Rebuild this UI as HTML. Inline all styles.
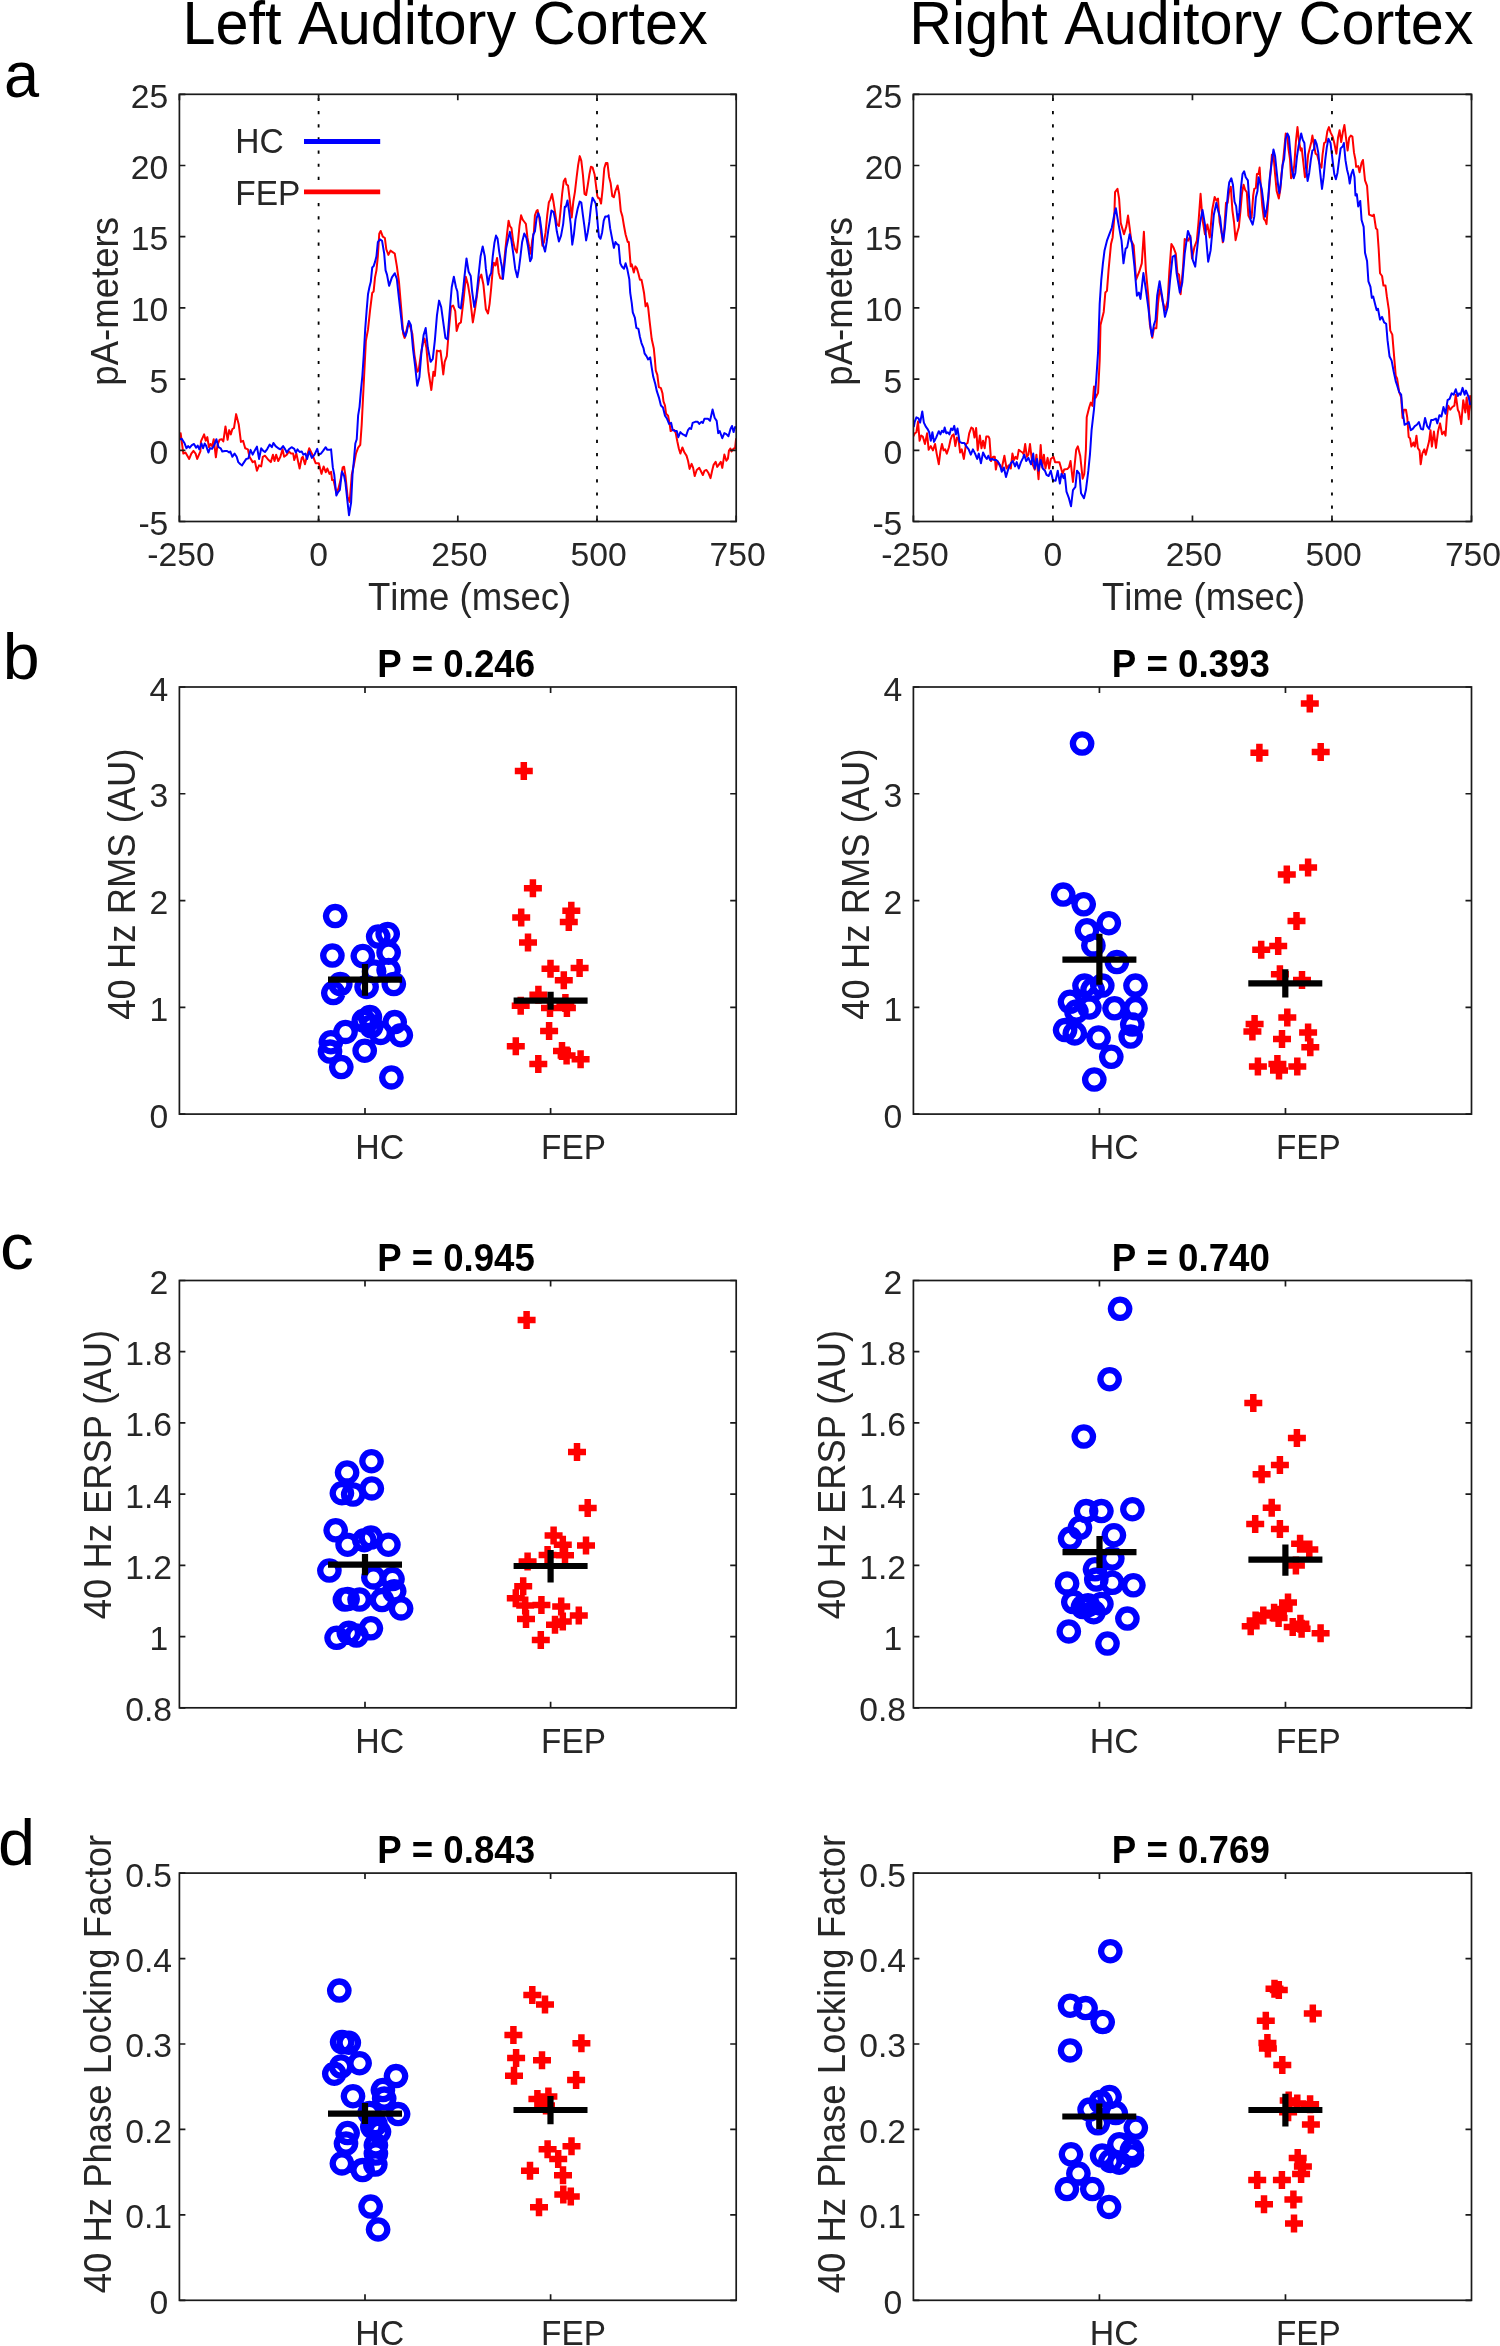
<!DOCTYPE html>
<html><head><meta charset="utf-8"><title>Figure</title>
<style>html,body{margin:0;padding:0;background:#fff;overflow:hidden;}svg{display:block;will-change:transform;}text{font-kerning:none;font-family:"Liberation Sans",sans-serif;}</style>
</head><body>
<svg width="1500" height="2346" viewBox="0 0 1500 2346" font-family="Liberation Sans, sans-serif">
<rect width="1500" height="2346" fill="#fff"/>
<text x="182.42" y="44" font-size="61.8" fill="#000" textLength="525.31" lengthAdjust="spacingAndGlyphs">Left Auditory Cortex</text>
<text x="909.13" y="44" font-size="61.8" fill="#000" textLength="564.31" lengthAdjust="spacingAndGlyphs">Right Auditory Cortex</text>
<text x="3.92" y="97.3" font-size="65" fill="#000" textLength="35.08" lengthAdjust="spacingAndGlyphs">a</text>
<text x="2.73" y="679.2" font-size="65" fill="#000" textLength="36.85" lengthAdjust="spacingAndGlyphs">b</text>
<text x="-0.08" y="1269.3" font-size="65" fill="#000" textLength="33.86" lengthAdjust="spacingAndGlyphs">c</text>
<text x="-2" y="1864.6" font-size="65" fill="#000" textLength="37.1" lengthAdjust="spacingAndGlyphs">d</text>
<clipPath id="clipaL"><rect x="179.4" y="94.3" width="556.8" height="427.2"/></clipPath>
<g clip-path="url(#clipaL)">
<path d="M179.07 438.67 L180.67 433.33 L183.33 453.6 L185.47 452.53 L189.2 458.93 L191.33 453.6 L193.47 450.93 L195.6 453.6 L197.2 458.93 L200.4 451.47 L200.93 441.33 L204.13 434.4 L205.73 440.8 L207.33 437.07 L208.93 447.2 L210.53 444 L212.13 446.13 L213.73 439.2 L215.87 457.33 L217.47 445.07 L219.6 439.73 L221.73 439.2 L223.33 441.33 L225.47 426.4 L227.6 439.73 L229.2 430.13 L230.8 434.4 L232.4 429.07 L234 428 L236.13 414.13 L238.8 424.8 L240.93 441.87 L243.07 440.8 L245.2 448.27 L247.87 449.33 L249.47 456.8 L252.67 462.13 L254.8 461.07 L256.93 470.67 L259.07 465.33 L261.2 466.4 L262.8 456.8 L264.93 455.73 L267.6 458.93 L270.8 462.13 L272.93 454.67 L274.53 461.07 L276.13 454.67 L278.27 461.07 L280.4 456.8 L282.53 449.33 L284.13 456.8 L286.8 454.67 L288.93 451.47 L291.07 453.6 L293.2 453.6 L294.27 460 L296.4 453.6 L299.6 468.53 L301.73 457.87 L302.8 456.8 L304.93 464.27 L307.07 455.73 L309.2 448.27 L312.4 454.67 L315.6 463.2 L318.8 463.2 L321.47 473.87 L323.6 466.4 L325.73 472.27 L327.33 468.53 L329.47 473.87 L331.07 471.73 L332.11 480.05 L333.52 480.05 L336.33 492.71 L338.44 488.49 L340.55 480.05 L342.67 467.38 L344.07 466.68 L345.48 475.82 L347.59 496.93 L349.7 501.86 L351.81 474.42 L353.92 464.57 L356.03 453.31 L358.15 447.68 L360.26 444.86 L361.66 425.16 L363.77 382.94 L365.89 340.73 L368 329.47 L370.11 309.77 L372.22 292.88 L373.63 291.47 L375.03 277.4 L376.44 270.36 L377.85 256.29 L379.25 233.77 L380.66 230.96 L382.77 236.59 L384.88 238 L386.29 249.25 L388.4 254.88 L390.51 250.66 L392.62 252.07 L394.73 253.48 L396.84 266.14 L398.96 281.62 L401.07 306.95 L403.18 333.69 L404.58 337.91 L406.7 329.47 L408.1 323.84 L410.21 326.65 L412.32 333.69 L414.44 354.8 L417.25 371.69 L418.66 370.28 L420.77 354.8 L422.88 343.54 L424.57 338.62 L426.4 347.76 L428.51 371.69 L431.32 389.98 L433.43 371.69 L434.84 375.91 L436.95 350.58 L439.06 351.28 L440.47 350.58 L441.88 361.84 L443.28 374.5 L444.69 361.84 L446.8 356.21 L448.91 329.47 L451.02 306.95 L453.14 305.54 L455.25 311.17 L456.65 330.88 L458.76 323.84 L460.88 322.43 L463.69 298.51 L465.8 276.7 L467.91 284.44 L470.02 297.1 L472.84 322.43 L474.95 309.77 L477.06 294.29 L479.17 278.81 L481.28 274.58 L483.39 284.44 L485.87 309.2 L488 313.47 L489.6 303.87 L491.2 287.87 L492.8 268.67 L493.87 262.8 L495.47 265.47 L497.07 258 L498.67 272.93 L500.27 278.27 L502.4 278.8 L504 263.33 L505.6 247.33 L507.2 232.4 L508.59 220.67 L509.87 226 L511.47 228.13 L513.07 240.93 L514.67 248.4 L516.8 252.67 L518.4 237.73 L519.47 226 L521.07 215.33 L522.67 219.6 L524.27 221.73 L525.87 223.87 L527.47 237.73 L529.07 246.27 L530.67 253.73 L532.27 239.87 L533.87 232.4 L534.93 215.33 L536.53 211.07 L537.6 210 L539.2 217.47 L540.8 230.27 L542.4 245.73 L544 242 L545.6 232.4 L547.2 215.33 L548.8 202.53 L550.4 199.33 L552 194 L553.6 202.53 L555.2 213.2 L556.8 223.87 L558.93 226 L560.53 211.07 L562.13 194 L563.73 181.2 L565.33 178.53 L566.4 184.4 L568 185.47 L569.6 198.27 L571.73 217.47 L573.33 201.47 L574.93 191.87 L576.53 178 L578.13 165.2 L579.73 156.13 L581.33 160.93 L582.93 174.8 L584.53 194 L586.13 195.07 L587.73 185.47 L589.33 174.8 L590.93 166.8 L592.53 167.33 L594.67 174.8 L596.27 187.6 L597.33 196.13 L598.4 198.27 L599.47 198.27 L601.07 203.6 L602.67 188.67 L604.27 168.4 L605.87 163.07 L607.47 163.07 L609.07 176.93 L610.67 183.33 L612.27 196.13 L613.87 197.2 L615.47 190.8 L617.6 185.47 L619.2 194 L620.8 211.07 L622.4 216.4 L624 226 L625.6 234.53 L627.73 242 L628.8 242 L630.23 260.23 L630.74 266.37 L631.76 264.32 L633.81 272.51 L635.35 266.37 L636.88 268.41 L638.41 273.53 L639.95 279.67 L641.48 279.67 L642.51 284.78 L644.04 292.97 L645.58 306.27 L647.11 303.2 L648.13 307.29 L649.67 321.61 L651.71 339 L653.76 348.21 L654.78 358.44 L655.81 370.72 L657.34 374.81 L658.87 387.08 L660.92 388.11 L662.46 393.22 L663.48 401.41 L665.01 405.5 L666.04 413.68 L668.08 415.73 L669.62 423.91 L670.64 431.07 L672.17 430.05 L674.22 430.05 L675.75 433.12 L677.29 441.3 L678.82 448.47 L680.36 453.58 L682.4 447.44 L684.45 452.56 L686.5 455.63 L688.03 460.74 L689.57 468.93 L691.61 463.81 L693.15 467.9 L694.68 476.09 L696.73 469.95 L699.28 467.9 L701.33 471.99 L702.86 475.06 L704.4 470.97 L706.45 469.95 L708.49 473.02 L710.54 478.13 L712.07 470.97 L713.61 464.83 L715.65 461.76 L717.19 466.88 L718.72 464.83 L720.77 461.76 L722.3 467.9 L724.35 454.6 L726.39 460.74 L727.93 458.7 L728.95 450.51 L730.49 448.47 L731.51 451.53 L733.55 448.47 L735.09 448.47 L736.11 438.24" fill="none" stroke="#ff0000" stroke-width="2" stroke-linejoin="round" stroke-linecap="butt"/>
<path d="M179.07 439.73 L181.73 438.67 L184.4 442.93 L186.53 448.27 L188.13 446.13 L189.73 447.73 L191.87 445.07 L194 444 L196.13 447.73 L197.73 445.6 L199.33 449.33 L201.47 443.47 L203.07 448.27 L204.67 443.47 L206.27 446.13 L208.4 452.53 L210 448.27 L212.13 448.8 L214.27 445.07 L216.4 439.2 L218.53 447.2 L220.67 448.27 L222.27 451.47 L224.93 450.93 L227.07 450.93 L229.2 452.53 L230.27 451.47 L232.4 456.8 L234.53 453.6 L236.67 456.8 L238.27 462.13 L240.4 464.27 L242 465.33 L244.13 462.13 L246.27 458.93 L248.4 458.4 L250.53 449.87 L252.67 454.67 L254.8 450.4 L256.93 446.67 L259.07 458.93 L261.2 448.27 L263.33 450.93 L264.93 452 L267.07 449.33 L269.73 444.53 L271.87 447.2 L273.47 442.93 L275.6 446.13 L278.27 448.27 L280.4 449.33 L283.07 446.13 L285.2 449.33 L286.8 452.53 L288.93 449.33 L291.6 447.2 L294.27 448.8 L295.87 452.53 L297.47 449.33 L299.6 452 L301.73 451.47 L303.33 454.67 L305.47 453.6 L307.07 458.93 L309.2 451.47 L311.87 457.87 L314.53 454.67 L317.2 448.8 L318.8 454.67 L320.93 453.6 L323.07 450.93 L325.73 447.2 L327.33 449.87 L329.47 449.87 L331.07 449.33 L332.81 467.38 L334.22 474.42 L336.33 495.52 L337.74 492.71 L339.85 489.9 L341.96 471.6 L344.07 475.82 L345.48 482.86 L347.59 502.56 L349 515.23 L351.11 502.56 L352.52 474.42 L353.92 460.34 L355.33 443.46 L356.74 439.23 L358.15 415.31 L359.55 406.87 L360.96 389.98 L362.37 375.91 L363.77 354.8 L365.18 329.47 L366.59 311.17 L368 294.29 L369.4 287.25 L370.81 281.62 L372.22 267.55 L373.63 266.14 L375.03 261.92 L376.44 256.29 L377.85 242.22 L379.96 239.4 L382.07 240.81 L384.18 253.48 L385.59 270.36 L386.99 274.58 L389.1 285.84 L391.92 277.4 L394.73 273.18 L396.84 278.81 L398.96 298.51 L401.07 316.8 L402.47 329.47 L405.29 336.5 L406.7 332.28 L408.81 321.02 L410.92 325.25 L413.03 349.17 L415.14 366.06 L417.25 385.76 L419.36 377.31 L421.47 351.98 L423.58 335.1 L425.69 328.06 L427.8 347.76 L430.62 361.84 L432.73 359.02 L434.84 340.73 L436.95 315.4 L439.06 300.62 L441.17 306.95 L443.28 322.43 L445.4 337.91 L447.51 339.32 L449.62 312.58 L451.73 287.25 L453.84 276.7 L455.95 287.25 L457.36 291.47 L458.76 306.95 L460.88 308.36 L462.99 291.47 L464.39 277.4 L466.5 258.4 L468.62 271.77 L470.73 275.99 L472.13 291.47 L474.24 306.95 L476.36 297.1 L478.47 275.99 L480.58 256.29 L482.69 246.44 L484.8 256.29 L485.87 268.67 L488 284.67 L489.6 276.13 L491.2 272.93 L492.8 255.87 L494.4 243.07 L496 235.6 L497.6 238.8 L499.2 251.6 L500.8 261.2 L501.87 266.53 L502.93 278.8 L504.53 264.4 L506.13 248.4 L507.73 240.93 L509.87 231.87 L511.47 240.93 L513.6 255.87 L515.2 268.67 L517.33 277.2 L518.93 268.67 L520.53 255.87 L522.13 242 L524.27 233.47 L526.4 237.73 L528 246.27 L530.13 261.2 L531.73 258 L533.33 234.53 L534.93 231.33 L536.53 218.53 L538.13 213.2 L539.73 217.47 L541.33 229.2 L542.93 244.13 L545.07 251.6 L546.67 242 L548.27 230.27 L549.87 220.67 L551.47 210.53 L553.6 212.13 L555.2 219.6 L556.8 231.33 L558.93 241.47 L561.07 235.6 L563.2 223.87 L564.8 206.8 L565.87 206.8 L567.47 200.4 L569.07 211.07 L570.67 223.87 L572.27 244.67 L573.87 234.53 L575.47 219.6 L577.6 208.93 L579.73 201.47 L581.33 202.53 L582.93 215.33 L584.53 227.07 L586.13 240.4 L587.73 232.4 L589.33 221.73 L590.93 206.8 L592.53 197.73 L594.13 200.4 L595.73 203.6 L596.8 213.2 L597.87 226 L598.93 236.67 L600.53 238.8 L602.13 232.4 L603.73 220.67 L605.33 216.4 L607.47 216.4 L608.53 215.33 L610.13 228.13 L611.73 236.67 L613.87 247.87 L615.47 242 L617.07 244.13 L618.67 245.2 L620.27 263.33 L621.87 266.53 L624 268.67 L625.6 263.33 L627.2 268.67 L629.33 279.33 L630.23 292.97 L631.76 303.2 L632.79 312.4 L634.83 317.52 L636.37 327.75 L638.41 328.77 L639.95 336.96 L641.48 343.09 L643.53 348.21 L644.55 353.32 L646.6 356.39 L648.13 359.46 L650.18 357.42 L651.71 367.65 L653.25 376.85 L655.29 384.02 L656.83 391.18 L658.87 397.31 L660.92 405.5 L662.97 407.54 L665.01 415.73 L667.06 418.8 L669.1 423.91 L671.15 422.89 L672.69 430.05 L675.24 431.07 L676.78 431.07 L678.31 437.21 L680.36 432.1 L682.4 434.14 L684.45 435.17 L685.98 436.19 L688.03 430.05 L689.57 428.01 L691.1 429.03 L692.63 422.89 L695.19 421.87 L697.75 421.87 L699.28 423.91 L701.33 421.87 L702.86 422.89 L704.4 418.8 L706.45 418.8 L707.98 418.8 L710.03 420.84 L712.58 409.59 L714.63 417.77 L716.68 420.84 L718.21 433.12 L719.74 431.07 L722.3 438.24 L724.35 433.12 L726.39 434.14 L728.44 436.19 L730.49 429.03 L732.02 425.96 L733.55 432.1 L735.09 426.98 L736.62 428.01" fill="none" stroke="#0000ff" stroke-width="2" stroke-linejoin="round" stroke-linecap="butt"/>
</g>
<line x1="318.6" y1="94.3" x2="318.6" y2="521.5" stroke="#000" stroke-width="1.8" stroke-dasharray="3.2 9.95" stroke-dashoffset="9.55"/>
<line x1="597" y1="94.3" x2="597" y2="521.5" stroke="#000" stroke-width="1.8" stroke-dasharray="3.2 9.95" stroke-dashoffset="9.55"/>
<path d="M179.4 521.5V515.5M179.4 94.3V100.3M318.6 521.5V515.5M318.6 94.3V100.3M457.8 521.5V515.5M457.8 94.3V100.3M597 521.5V515.5M597 94.3V100.3M736.2 521.5V515.5M736.2 94.3V100.3M179.4 94.3H185.4M736.2 94.3H730.2M179.4 165.5H185.4M736.2 165.5H730.2M179.4 236.7H185.4M736.2 236.7H730.2M179.4 307.9H185.4M736.2 307.9H730.2M179.4 379.1H185.4M736.2 379.1H730.2M179.4 450.3H185.4M736.2 450.3H730.2M179.4 521.5H185.4M736.2 521.5H730.2" fill="none" stroke="#1a1a1a" stroke-width="1.7"/>
<rect x="179.4" y="94.3" width="556.8" height="427.2" fill="none" stroke="#1a1a1a" stroke-width="1.7"/>
<text x="130.87" y="107.8" font-size="33.7" fill="#262626">25</text>
<text x="130.87" y="179" font-size="33.7" fill="#262626">20</text>
<text x="130.87" y="250.2" font-size="33.7" fill="#262626">15</text>
<text x="130.87" y="321.4" font-size="33.7" fill="#262626">10</text>
<text x="149.61" y="392.6" font-size="33.7" fill="#262626">5</text>
<text x="149.61" y="463.8" font-size="33.7" fill="#262626">0</text>
<text x="138.39" y="535" font-size="33.7" fill="#262626">-5</text>
<text x="147.28" y="566.3" font-size="33.7" fill="#262626">-250</text>
<text x="309.23" y="566.3" font-size="33.7" fill="#262626">0</text>
<text x="431.2" y="566.3" font-size="33.7" fill="#262626">250</text>
<text x="570.57" y="566.3" font-size="33.7" fill="#262626">500</text>
<text x="709.58" y="566.3" font-size="33.7" fill="#262626">750</text>
<text x="367.98" y="609.6" font-size="38.1" fill="#262626" textLength="203.29" lengthAdjust="spacingAndGlyphs">Time (msec)</text>
<text transform="translate(118.4 385.66) rotate(-90)" x="0" y="0" font-size="38.1" fill="#262626" textLength="168.68" lengthAdjust="spacingAndGlyphs">pA-meters</text>
<clipPath id="clipaR"><rect x="913.4" y="94.3" width="558.1" height="427.2"/></clipPath>
<g clip-path="url(#clipaR)">
<path d="M913.2 436.53 L914.8 433.33 L916.4 432.27 L918 421.6 L919.6 440.8 L921.2 435.47 L922.8 436.53 L924.93 444 L927.07 433.33 L928.67 449.87 L930.8 446.13 L932.93 450.4 L935.07 444 L936.67 453.6 L938.8 464.27 L940.4 451.47 L942 444 L943.6 450.4 L945.2 449.33 L946.8 453.6 L948.93 447.2 L950.53 439.73 L952.13 435.47 L953.73 434.4 L955.33 446.13 L956.93 437.6 L958.53 439.73 L960.13 452.53 L961.73 449.33 L963.87 458.93 L966 444 L967.6 442.93 L969.2 433.33 L971.33 427.47 L972.93 428.53 L974.53 437.6 L976.13 428 L977.73 450.4 L979.87 435.47 L981.47 448.27 L983.07 440.8 L984.67 448.27 L986.27 436.53 L988.4 436.53 L989.47 438.67 L991.07 461.07 L993.2 456.8 L994.8 456.8 L995.87 469.6 L997.47 461.07 L999.6 465.33 L1001.73 468.53 L1004.4 455.73 L1006.53 468.53 L1008.67 465.33 L1010.8 468.53 L1012.4 453.6 L1014 460 L1015.6 456.8 L1017.2 458.93 L1018.8 449.87 L1020.93 451.47 L1022.53 452.53 L1023.6 454.13 L1025.2 444 L1026.8 456.8 L1028.4 454.67 L1030 444 L1031.6 457.87 L1032.67 464.27 L1034.8 469.6 L1036.4 454.67 L1038.53 479.2 L1040.67 445.07 L1042.27 467.47 L1043.87 454.67 L1045.47 468.53 L1047.6 457.87 L1049.2 468.53 L1050.8 458.93 L1053.47 456.8 L1055.07 462.13 L1057.2 462.13 L1059.33 462.13 L1060.93 467.47 L1062.53 473.87 L1064.13 469.6 L1067.29 469.03 L1068.91 467.41 L1070.53 460.93 L1072.96 481.98 L1074.57 465.79 L1076.19 449.6 L1077.81 446.36 L1080.24 456.07 L1082.67 478.74 L1084.29 473.89 L1085.91 449.6 L1086.72 417.21 L1089.15 407.49 L1090.77 402.63 L1092.39 405.87 L1094.01 386.44 L1095.63 397.77 L1098.06 392.91 L1099.68 360.53 L1100.49 324.9 L1102.11 318.42 L1103.72 311.94 L1105.34 292.51 L1106.96 290.89 L1108.58 269.84 L1111.01 243.93 L1112.63 237.45 L1114.25 218.02 L1115.06 192.11 L1117.49 188.87 L1119.11 198.58 L1120.73 222.87 L1123.97 234.21 L1126.4 226.11 L1128.02 215.59 L1129.64 227.73 L1131.26 240.69 L1133.68 245.55 L1136.11 279.55 L1139.35 271.46 L1141.78 263.36 L1143.89 231.78 L1145.83 269.84 L1148.26 295.75 L1149.88 324.9 L1152.31 337.85 L1153.93 328.14 L1156.36 328.14 L1157.98 303.85 L1159.6 289.27 L1161.21 294.13 L1162.83 302.23 L1165.26 310.32 L1167.69 300.61 L1169.31 271.46 L1171.42 243.93 L1173.36 247.17 L1175.79 253.64 L1177.41 273.08 L1179.03 274.7 L1180.65 294.13 L1183.08 266.6 L1184.7 239.07 L1187.94 240.69 L1190.36 235.83 L1191.98 258.5 L1194.41 247.17 L1196.84 240.69 L1198.46 222.87 L1200.57 193.72 L1202.51 219.64 L1204.94 234.21 L1207.37 224.49 L1209.8 237.45 L1212.23 209.92 L1214.66 196.96 L1216.4 200.67 L1218 198.53 L1219.6 222 L1220.67 227.33 L1221.73 233.73 L1222.8 242.27 L1224.4 227.33 L1226 202.8 L1227.6 202.8 L1229.2 191.07 L1230.8 186.8 L1232.4 210.27 L1234 222 L1235.6 240.13 L1237.2 232.67 L1238.8 227.33 L1240.4 211.33 L1242 193.2 L1243.6 184.67 L1245.2 190 L1246.8 192.13 L1248.4 215.6 L1250 218.8 L1251.6 217.73 L1253.2 195.33 L1254.27 188.93 L1255.87 187.87 L1256.93 174 L1258.53 174 L1259.6 167.6 L1260.67 184.67 L1262.27 206 L1263.87 218.8 L1265.47 220.93 L1266.53 224.13 L1268.13 202.8 L1269.73 181.47 L1270.8 169.73 L1271.87 154.8 L1273.47 154.8 L1275.07 174 L1276.67 191.07 L1278.8 198.53 L1280.4 188.93 L1281.47 174 L1283.07 161.2 L1284.13 150.53 L1285.73 133.47 L1287.33 134.53 L1288.4 148.4 L1290 159.07 L1291.07 178.27 L1292.67 175.07 L1294.27 165.47 L1295.87 142 L1297.47 127.07 L1299.07 142 L1300.67 150.53 L1301.73 148.4 L1303.33 162.27 L1304.93 177.2 L1306.53 172.93 L1308.13 154.8 L1309.73 148.4 L1311.33 142 L1312.4 135.6 L1313.47 142 L1315.6 153.73 L1317.2 154.8 L1319.33 163.33 L1321.47 167.6 L1322.53 154.8 L1324.13 143.07 L1325.73 142 L1327.33 131.33 L1328.93 127.07 L1330.53 132.4 L1332.67 136.67 L1334.27 143.07 L1336.4 153.73 L1338 137.73 L1339.6 130.27 L1341.2 142 L1342.8 132.4 L1344.4 124.93 L1346 137.73 L1347.6 150.53 L1349.2 137.73 L1350.8 135.6 L1352.4 136.67 L1354 152.67 L1355.46 160 L1356.14 166.82 L1358.19 166.14 L1359.55 172.28 L1361.6 162.73 L1362.96 160 L1365.01 180.47 L1367.06 185.93 L1369.1 214.59 L1372.52 215.95 L1373.88 214.59 L1375.93 228.23 L1377.29 229.6 L1378.66 248.7 L1380.02 273.26 L1382.07 275.99 L1383.43 285.55 L1385.48 285.55 L1386.84 296.46 L1388.89 310.11 L1390.26 330.58 L1392.3 334.67 L1393.67 351.05 L1395.72 375.61 L1397.08 378.34 L1399.13 391.99 L1401.17 397.45 L1402.54 417.91 L1403.9 409.73 L1405.95 409.73 L1407.31 417.91 L1408.68 437.02 L1410.04 438.38 L1411.41 446.57 L1413.46 442.48 L1414.82 446.57 L1416.46 435.66 L1417.82 447.94 L1419.6 450.67 L1420.69 464.31 L1422.33 453.4 L1424.37 449.3 L1425.74 454.76 L1427.78 446.57 L1429.15 441.11 L1430.51 430.2 L1431.88 446.57 L1433.92 431.56 L1435.97 447.94 L1438.02 431.56 L1440.07 423.37 L1442.11 434.29 L1444.16 431.56 L1445.52 435.66 L1446.89 416.55 L1448.25 405.63 L1450.3 409.73 L1452.35 407 L1454.39 405.63 L1455.76 394.72 L1457.81 409.73 L1459.17 412.46 L1461.22 424.06 L1463.26 400.17 L1465.31 412.46 L1466.68 397.45 L1468.72 419.28 L1470.09 396.08 L1472.13 412.46" fill="none" stroke="#ff0000" stroke-width="2" stroke-linejoin="round" stroke-linecap="butt"/>
<path d="M913.73 426.93 L914.8 421.6 L916.4 417.33 L918.53 418.4 L920.13 422.67 L922.27 411.47 L923.87 422.67 L926 426.93 L927.6 429.07 L929.2 432.27 L930.8 440.8 L932.4 432.27 L934 441.87 L936.13 437.6 L938.8 431.2 L940.4 434.4 L942 430.67 L943.6 432.27 L944.67 427.47 L946.27 433.33 L947.87 432.27 L949.47 434.4 L951.07 428.53 L952.67 430.13 L954.27 425.87 L955.87 434.4 L957.47 428.53 L959.6 441.87 L961.73 442.93 L964.4 442.93 L966.53 446.67 L968.67 449.33 L970.8 454.67 L972.93 449.33 L975.07 453.6 L977.2 458.93 L978.8 453.6 L980.93 463.2 L983.07 452.53 L985.2 456.8 L986.8 458.93 L988.4 455.73 L990 460 L992.13 458.93 L994.27 460 L996.4 460 L998.53 462.67 L1000.13 465.33 L1001.73 471.73 L1003.87 467.47 L1006 477.07 L1008.13 469.6 L1010.8 463.2 L1012.93 461.07 L1015.07 466.4 L1016.67 462.13 L1018.8 468.53 L1020.93 462.13 L1023.07 457.87 L1024.13 454.67 L1026.27 461.07 L1028.4 457.87 L1031.07 464.27 L1033.2 453.6 L1034.8 468.53 L1036.93 458.93 L1038.53 470.67 L1040.67 460 L1042.8 468.53 L1044.93 470.67 L1046.53 474.93 L1048.67 476 L1050.8 470.67 L1052.93 480.27 L1055.6 480.8 L1057.73 470.67 L1059.87 483.47 L1061.47 473.87 L1063.6 478.13 L1064.67 473.87 L1066.48 491.7 L1068.91 498.18 L1071.01 506.28 L1072.96 490.08 L1075.38 486.84 L1077 470.65 L1079.43 473.89 L1081.05 493.32 L1083.97 498.18 L1085.91 490.08 L1088.34 470.65 L1089.96 454.45 L1091.58 430.16 L1094.01 409.11 L1096.44 376.72 L1098.06 352.43 L1098.87 328.14 L1099.68 303.85 L1101.3 279.55 L1102.91 263.36 L1104.53 250.4 L1106.96 240.69 L1109.39 234.21 L1111.82 227.73 L1114.25 214.78 L1115.87 208.3 L1118.3 222.87 L1121.54 240.69 L1123.48 263.36 L1125.59 248.79 L1127.21 247.17 L1129.64 234.21 L1132.06 243.93 L1134.49 266.6 L1136.92 295.75 L1138.87 292.51 L1140.49 298.99 L1143.4 273.08 L1145.83 289.27 L1148.26 307.09 L1150.69 328.14 L1151.98 336.23 L1153.93 324.9 L1155.55 320.04 L1157.17 295.75 L1159.6 281.17 L1162.02 295.75 L1164.94 316.8 L1167.69 307.09 L1170.12 279.55 L1172.55 256.88 L1174.98 255.26 L1176.6 273.08 L1179.84 292.51 L1182.27 282.79 L1184.7 253.64 L1187.94 230.97 L1190.36 237.45 L1192.79 260.12 L1195.22 266.6 L1197.65 243.93 L1200.08 222.87 L1202.51 209.92 L1204.94 224.49 L1208.18 261.74 L1210.61 250.4 L1213.85 214.78 L1216.4 202.8 L1218 210.27 L1220.13 217.73 L1221.73 232.67 L1223.33 241.2 L1224.93 227.33 L1226.53 209.2 L1228.13 191.07 L1229.2 182.53 L1231.33 178.27 L1232.93 184.67 L1234.53 201.73 L1236.13 206 L1237.73 220.93 L1239.33 212.4 L1240.93 187.87 L1242.53 174 L1244.13 171.33 L1245.73 177.2 L1247.87 180.4 L1249.47 203.87 L1250.53 219.87 L1252.67 224.67 L1254.27 216.67 L1255.87 197.47 L1257.47 191.07 L1258.53 177.2 L1260.13 182.53 L1261.73 188.93 L1263.33 201.73 L1264.93 216.67 L1266.53 210.27 L1268.13 198.53 L1269.73 178.27 L1271.33 165.47 L1273.47 149.47 L1275.07 155.87 L1276.67 171.87 L1278.27 186.8 L1279.33 193.2 L1280.93 182.53 L1282.53 165.47 L1284.13 159.07 L1285.73 138.8 L1287.33 133.47 L1288.93 136.67 L1290.53 154.8 L1292.13 170.8 L1293.73 178.27 L1295.33 172.93 L1296.93 156.93 L1298.53 146.27 L1301.2 133.47 L1302.8 139.87 L1304.4 143.07 L1306 167.6 L1307.6 180.93 L1309.2 172.93 L1310.8 160.13 L1312.4 150.53 L1314 149.47 L1315.07 139.87 L1316.67 144.13 L1318.27 152.67 L1319.87 169.73 L1322 188.93 L1323.6 177.2 L1325.2 160.13 L1326.8 147.33 L1328.4 138.8 L1330.53 143.07 L1332.67 161.2 L1334.27 174 L1335.87 179.33 L1337.47 172.93 L1339.07 160.13 L1340.67 148.4 L1342.8 146.27 L1343.87 143.07 L1345.47 160.13 L1347.07 169.73 L1348.67 176.13 L1349.73 183.6 L1351.33 174 L1352.93 169.73 L1354.53 177.2 L1355.46 195.48 L1356.82 194.12 L1358.19 206.4 L1360.23 200.94 L1361.6 220.04 L1363.65 226.87 L1365.01 252.79 L1367.06 260.98 L1368.42 281.45 L1370.47 286.91 L1371.83 297.83 L1373.2 296.46 L1375.25 304.65 L1376.61 310.11 L1377.97 308.74 L1380.02 319.66 L1382.07 316.93 L1384.12 322.39 L1386.16 323.76 L1387.53 340.13 L1389.57 356.51 L1391.62 360.6 L1393.67 371.52 L1395.72 381.07 L1397.08 385.16 L1399.13 391.99 L1401.17 394.72 L1402.54 411.09 L1404.59 424.74 L1407.31 423.37 L1408.68 422.01 L1410.73 430.2 L1412.77 428.83 L1414.82 426.1 L1416.87 424.74 L1418.91 422.01 L1420.96 428.83 L1423.01 429.51 L1425.05 417.91 L1427.1 426.1 L1429.15 428.83 L1431.2 419.96 L1433.24 419.96 L1435.97 418.6 L1437.34 423.37 L1439.38 415.19 L1441.43 416.55 L1443.48 407 L1445.52 413.82 L1447.57 400.17 L1449.62 398.81 L1451.66 393.35 L1453.71 394.72 L1455.76 389.26 L1457.81 396.08 L1459.17 393.35 L1460.53 394.72 L1462.58 387.89 L1464.63 394.72 L1465.99 390.62 L1468.72 397.45 L1470.09 404.27 L1472.13 402.9" fill="none" stroke="#0000ff" stroke-width="2" stroke-linejoin="round" stroke-linecap="butt"/>
</g>
<line x1="1052.92" y1="94.3" x2="1052.92" y2="521.5" stroke="#000" stroke-width="1.8" stroke-dasharray="3.2 9.95" stroke-dashoffset="9.55"/>
<line x1="1331.97" y1="94.3" x2="1331.97" y2="521.5" stroke="#000" stroke-width="1.8" stroke-dasharray="3.2 9.95" stroke-dashoffset="9.55"/>
<path d="M913.4 521.5V515.5M913.4 94.3V100.3M1052.92 521.5V515.5M1052.92 94.3V100.3M1192.45 521.5V515.5M1192.45 94.3V100.3M1331.97 521.5V515.5M1331.97 94.3V100.3M1471.5 521.5V515.5M1471.5 94.3V100.3M913.4 94.3H919.4M1471.5 94.3H1465.5M913.4 165.5H919.4M1471.5 165.5H1465.5M913.4 236.7H919.4M1471.5 236.7H1465.5M913.4 307.9H919.4M1471.5 307.9H1465.5M913.4 379.1H919.4M1471.5 379.1H1465.5M913.4 450.3H919.4M1471.5 450.3H1465.5M913.4 521.5H919.4M1471.5 521.5H1465.5" fill="none" stroke="#1a1a1a" stroke-width="1.7"/>
<rect x="913.4" y="94.3" width="558.1" height="427.2" fill="none" stroke="#1a1a1a" stroke-width="1.7"/>
<text x="864.87" y="107.8" font-size="33.7" fill="#262626">25</text>
<text x="864.87" y="179" font-size="33.7" fill="#262626">20</text>
<text x="864.87" y="250.2" font-size="33.7" fill="#262626">15</text>
<text x="864.87" y="321.4" font-size="33.7" fill="#262626">10</text>
<text x="883.61" y="392.6" font-size="33.7" fill="#262626">5</text>
<text x="883.61" y="463.8" font-size="33.7" fill="#262626">0</text>
<text x="872.39" y="535" font-size="33.7" fill="#262626">-5</text>
<text x="881.28" y="566.3" font-size="33.7" fill="#262626">-250</text>
<text x="1043.55" y="566.3" font-size="33.7" fill="#262626">0</text>
<text x="1165.85" y="566.3" font-size="33.7" fill="#262626">250</text>
<text x="1305.55" y="566.3" font-size="33.7" fill="#262626">500</text>
<text x="1444.88" y="566.3" font-size="33.7" fill="#262626">750</text>
<text x="1101.98" y="609.6" font-size="38.1" fill="#262626" textLength="203.29" lengthAdjust="spacingAndGlyphs">Time (msec)</text>
<text transform="translate(852.4 385.66) rotate(-90)" x="0" y="0" font-size="38.1" fill="#262626" textLength="168.68" lengthAdjust="spacingAndGlyphs">pA-meters</text>
<text x="235.25" y="152.6" font-size="34.9" fill="#262626" textLength="48.43" lengthAdjust="spacingAndGlyphs">HC</text>
<text x="235.25" y="205.4" font-size="34.9" fill="#262626" textLength="65.11" lengthAdjust="spacingAndGlyphs">FEP</text>
<line x1="304" y1="141.5" x2="380.2" y2="141.5" stroke="#0000ff" stroke-width="4.8"/>
<line x1="304" y1="191.8" x2="380.2" y2="191.8" stroke="#ff0000" stroke-width="4.8"/>
<path d="M335.19 907a9.1 9.1 0 1 0 0.01 0M332.39 946.4a9.1 9.1 0 1 0 0.01 0M362.8 946.9a9.1 9.1 0 1 0 0.01 0M378.19 927.4a9.1 9.1 0 1 0 0.01 0M387.69 924.8a9.1 9.1 0 1 0 0.01 0M388.6 943.6a9.1 9.1 0 1 0 0.01 0M374.1 962.3a9.1 9.1 0 1 0 0.01 0M388.6 960.9a9.1 9.1 0 1 0 0.01 0M340.3 975a9.1 9.1 0 1 0 0.01 0M333.3 983.9a9.1 9.1 0 1 0 0.01 0M366.6 977.8a9.1 9.1 0 1 0 0.01 0M393.8 975a9.1 9.1 0 1 0 0.01 0M369.89 1007.8a9.1 9.1 0 1 0 0.01 0M363.8 1011.6a9.1 9.1 0 1 0 0.01 0M394.69 1013a9.1 9.1 0 1 0 0.01 0M380.6 1023.8a9.1 9.1 0 1 0 0.01 0M345.5 1022.8a9.1 9.1 0 1 0 0.01 0M330.89 1033.1a9.1 9.1 0 1 0 0.01 0M330 1042.5a9.1 9.1 0 1 0 0.01 0M400.8 1026.1a9.1 9.1 0 1 0 0.01 0M364.69 1041.6a9.1 9.1 0 1 0 0.01 0M341.3 1058a9.1 9.1 0 1 0 0.01 0M391.39 1068.3a9.1 9.1 0 1 0 0.01 0M371.3 1017.2a9.1 9.1 0 1 0 0.01 0" fill="none" stroke="#0000ff" stroke-width="6.3"/>
<path d="M514.8 771.1h18M523.8 762.1v18M523.9 888.3h18M532.9 879.3v18M512.2 917.4h18M521.2 908.4v18M562.3 910.8h18M571.3 901.8v18M559.8 921.9h18M568.8 912.9v18M519 942.4h18M528 933.4v18M541.5 968.7h18M550.5 959.7v18M570.6 968h18M579.6 959v18M554.8 980.3h18M563.8 971.3v18M529.4 994.7h18M538.4 985.7v18M511.7 1005.8h18M520.7 996.8v18M541 1007.9h18M550 998.9v18M557.9 1007.9h18M566.9 998.9v18M556.4 1003.1h18M565.4 994.1v18M540.1 1031h18M549.1 1022v18M506.8 1046.3h18M515.8 1037.3v18M553 1051.1h18M562 1042.1v18M557.6 1055.6h18M566.6 1046.6v18M571.6 1059.2h18M580.6 1050.2v18M529.3 1064h18M538.3 1055v18" fill="none" stroke="#ff0000" stroke-width="6.5"/>
<path d="M328 979.6h74M365 964V995.8" fill="none" stroke="#000" stroke-width="6.2"/>
<path d="M513.6 1000.7h74M550.6 991.7V1009.7" fill="none" stroke="#000" stroke-width="6.2"/>
<path d="M365 1114.1V1108.1M365 687V693M550.6 1114.1V1108.1M550.6 687V693M179.4 1114.1H185.4M736.2 1114.1H730.2M179.4 1007.32H185.4M736.2 1007.32H730.2M179.4 900.55H185.4M736.2 900.55H730.2M179.4 793.77H185.4M736.2 793.77H730.2M179.4 687H185.4M736.2 687H730.2" fill="none" stroke="#1a1a1a" stroke-width="1.7"/>
<rect x="179.4" y="687" width="556.8" height="427.1" fill="none" stroke="#1a1a1a" stroke-width="1.7"/>
<text x="149.61" y="1127.6" font-size="33.7" fill="#262626">0</text>
<text x="149.61" y="1020.82" font-size="33.7" fill="#262626">1</text>
<text x="149.61" y="914.05" font-size="33.7" fill="#262626">2</text>
<text x="149.61" y="807.27" font-size="33.7" fill="#262626">3</text>
<text x="149.61" y="700.5" font-size="33.7" fill="#262626">4</text>
<text x="355.32" y="1158.9" font-size="35.8" fill="#262626" textLength="48.86" lengthAdjust="spacingAndGlyphs">HC</text>
<text x="541.07" y="1158.9" font-size="35.8" fill="#262626" textLength="64.79" lengthAdjust="spacingAndGlyphs">FEP</text>
<text transform="translate(134.5 1019.64) rotate(-90)" x="0" y="0" font-size="38.1" fill="#262626" textLength="271.19" lengthAdjust="spacingAndGlyphs">40 Hz RMS (AU)</text>
<text x="377.15" y="677.1" font-size="38.1" font-weight="bold" fill="#000" textLength="157.98" lengthAdjust="spacingAndGlyphs">P = 0.246</text>
<path d="M1082.09 734.4a9.1 9.1 0 1 0 0.01 0M1063.19 885.5a9.1 9.1 0 1 0 0.01 0M1083.69 895.2a9.1 9.1 0 1 0 0.01 0M1108.79 914.1a9.1 9.1 0 1 0 0.01 0M1086.99 921.1a9.1 9.1 0 1 0 0.01 0M1093.39 936.3a9.1 9.1 0 1 0 0.01 0M1116.89 953a9.1 9.1 0 1 0 0.01 0M1084.49 976.5a9.1 9.1 0 1 0 0.01 0M1092.59 980.5a9.1 9.1 0 1 0 0.01 0M1102.29 976.5a9.1 9.1 0 1 0 0.01 0M1135.49 976.5a9.1 9.1 0 1 0 0.01 0M1069.99 992.7a9.1 9.1 0 1 0 0.01 0M1089.39 998.4a9.1 9.1 0 1 0 0.01 0M1076.39 1002.4a9.1 9.1 0 1 0 0.01 0M1114.49 999.2a9.1 9.1 0 1 0 0.01 0M1135.49 999.2a9.1 9.1 0 1 0 0.01 0M1132.29 1015.4a9.1 9.1 0 1 0 0.01 0M1065.09 1021a9.1 9.1 0 1 0 0.01 0M1074.79 1024.3a9.1 9.1 0 1 0 0.01 0M1130.69 1027.5a9.1 9.1 0 1 0 0.01 0M1098.59 1028.3a9.1 9.1 0 1 0 0.01 0M1111.29 1047.7a9.1 9.1 0 1 0 0.01 0M1094.29 1070.4a9.1 9.1 0 1 0 0.01 0" fill="none" stroke="#0000ff" stroke-width="6.3"/>
<path d="M1300.8 703.6h18M1309.8 694.6v18M1250.4 752.7h18M1259.4 743.7v18M1311.7 752h18M1320.7 743v18M1277.8 874.5h18M1286.8 865.5v18M1299.1 867.5h18M1308.1 858.5v18M1287.5 921h18M1296.5 912v18M1252.2 949.8h18M1261.2 940.8v18M1269.2 946h18M1278.2 937v18M1270.9 974.2h18M1279.9 965.2v18M1293 980h18M1302 971v18M1278.3 1017.4h18M1287.3 1008.4v18M1245.6 1024.1h18M1254.6 1015.1v18M1243.4 1031.5h18M1252.4 1022.5v18M1299.1 1032.4h18M1308.1 1023.4v18M1273 1039h18M1282 1030v18M1301.3 1047.3h18M1310.3 1038.3v18M1248.9 1066.4h18M1257.9 1057.4v18M1268.4 1063.9h18M1277.4 1054.9v18M1270 1070.6h18M1279 1061.6v18M1288.3 1066.4h18M1297.3 1057.4v18" fill="none" stroke="#ff0000" stroke-width="6.5"/>
<path d="M1062.4 959.7h74M1099.4 933.8V984.8" fill="none" stroke="#000" stroke-width="6.2"/>
<path d="M1248.3 983.3h74M1285.3 969.2V997.5" fill="none" stroke="#000" stroke-width="6.2"/>
<path d="M1099.43 1114.1V1108.1M1099.43 687V693M1285.47 1114.1V1108.1M1285.47 687V693M913.4 1114.1H919.4M1471.5 1114.1H1465.5M913.4 1007.32H919.4M1471.5 1007.32H1465.5M913.4 900.55H919.4M1471.5 900.55H1465.5M913.4 793.77H919.4M1471.5 793.77H1465.5M913.4 687H919.4M1471.5 687H1465.5" fill="none" stroke="#1a1a1a" stroke-width="1.7"/>
<rect x="913.4" y="687" width="558.1" height="427.1" fill="none" stroke="#1a1a1a" stroke-width="1.7"/>
<text x="883.61" y="1127.6" font-size="33.7" fill="#262626">0</text>
<text x="883.61" y="1020.82" font-size="33.7" fill="#262626">1</text>
<text x="883.61" y="914.05" font-size="33.7" fill="#262626">2</text>
<text x="883.61" y="807.27" font-size="33.7" fill="#262626">3</text>
<text x="883.61" y="700.5" font-size="33.7" fill="#262626">4</text>
<text x="1089.76" y="1158.9" font-size="35.8" fill="#262626" textLength="48.86" lengthAdjust="spacingAndGlyphs">HC</text>
<text x="1275.93" y="1158.9" font-size="35.8" fill="#262626" textLength="64.79" lengthAdjust="spacingAndGlyphs">FEP</text>
<text transform="translate(868.5 1019.64) rotate(-90)" x="0" y="0" font-size="38.1" fill="#262626" textLength="271.19" lengthAdjust="spacingAndGlyphs">40 Hz RMS (AU)</text>
<text x="1111.8" y="677.1" font-size="38.1" font-weight="bold" fill="#000" textLength="157.98" lengthAdjust="spacingAndGlyphs">P = 0.393</text>
<path d="M371.5 1452.1a9.1 9.1 0 1 0 0.01 0M347.1 1463.3a9.1 9.1 0 1 0 0.01 0M371.8 1479.3a9.1 9.1 0 1 0 0.01 0M341.89 1484.1a9.1 9.1 0 1 0 0.01 0M353.19 1485.4a9.1 9.1 0 1 0 0.01 0M335.69 1521.2a9.1 9.1 0 1 0 0.01 0M347.6 1535.6a9.1 9.1 0 1 0 0.01 0M364.3 1531.1a9.1 9.1 0 1 0 0.01 0M370.89 1528.4a9.1 9.1 0 1 0 0.01 0M388.39 1535.6a9.1 9.1 0 1 0 0.01 0M329.39 1561.4a9.1 9.1 0 1 0 0.01 0M373.39 1568.3a9.1 9.1 0 1 0 0.01 0M392.5 1569.9a9.1 9.1 0 1 0 0.01 0M394.19 1582.1a9.1 9.1 0 1 0 0.01 0M344.89 1590.4a9.1 9.1 0 1 0 0.01 0M347.6 1589.9a9.1 9.1 0 1 0 0.01 0M359.6 1590.4a9.1 9.1 0 1 0 0.01 0M382 1591a9.1 9.1 0 1 0 0.01 0M401.1 1599.3a9.1 9.1 0 1 0 0.01 0M336.6 1628.7a9.1 9.1 0 1 0 0.01 0M348.8 1623.7a9.1 9.1 0 1 0 0.01 0M356.5 1626.4a9.1 9.1 0 1 0 0.01 0M370.89 1619.2a9.1 9.1 0 1 0 0.01 0" fill="none" stroke="#0000ff" stroke-width="6.3"/>
<path d="M517.6 1319.9h18M526.6 1310.9v18M568 1451.9h18M577 1442.9v18M578.7 1508.1h18M587.7 1499.1v18M544.6 1535.6h18M553.6 1526.6v18M553.8 1544.8h18M562.8 1535.8v18M556 1555.2h18M565 1546.2v18M538.6 1555h18M547.6 1546v18M518.6 1561.4h18M527.6 1552.4v18M577 1545.6h18M586 1536.6v18M514.2 1586.2h18M523.2 1577.2v18M506.8 1598.2h18M515.8 1589.2v18M516.2 1605.6h18M525.2 1596.6v18M532.4 1605h18M541.4 1596v18M552.2 1606.4h18M561.2 1597.4v18M517 1619h18M526 1610v18M569.8 1615.6h18M578.8 1606.6v18M546 1624.8h18M555 1615.8v18M553.8 1621.6h18M562.8 1612.6v18M531.8 1640h18M540.8 1631v18" fill="none" stroke="#ff0000" stroke-width="6.5"/>
<path d="M328 1564.6h74M365 1554.1V1575.2" fill="none" stroke="#000" stroke-width="6.2"/>
<path d="M513.6 1566h74M550.6 1550V1582.4" fill="none" stroke="#000" stroke-width="6.2"/>
<path d="M365 1707.8V1701.8M365 1280.5V1286.5M550.6 1707.8V1701.8M550.6 1280.5V1286.5M179.4 1707.8H185.4M736.2 1707.8H730.2M179.4 1636.58H185.4M736.2 1636.58H730.2M179.4 1565.37H185.4M736.2 1565.37H730.2M179.4 1494.15H185.4M736.2 1494.15H730.2M179.4 1422.93H185.4M736.2 1422.93H730.2M179.4 1351.72H185.4M736.2 1351.72H730.2M179.4 1280.5H185.4M736.2 1280.5H730.2" fill="none" stroke="#1a1a1a" stroke-width="1.7"/>
<rect x="179.4" y="1280.5" width="556.8" height="427.3" fill="none" stroke="#1a1a1a" stroke-width="1.7"/>
<text x="125.21" y="1721.3" font-size="33.7" fill="#262626">0.8</text>
<text x="149.61" y="1650.08" font-size="33.7" fill="#262626">1</text>
<text x="125.21" y="1578.87" font-size="33.7" fill="#262626">1.2</text>
<text x="125.21" y="1507.65" font-size="33.7" fill="#262626">1.4</text>
<text x="125.21" y="1436.43" font-size="33.7" fill="#262626">1.6</text>
<text x="125.21" y="1365.22" font-size="33.7" fill="#262626">1.8</text>
<text x="149.61" y="1294" font-size="33.7" fill="#262626">2</text>
<text x="355.32" y="1752.6" font-size="35.8" fill="#262626" textLength="48.86" lengthAdjust="spacingAndGlyphs">HC</text>
<text x="541.07" y="1752.6" font-size="35.8" fill="#262626" textLength="64.79" lengthAdjust="spacingAndGlyphs">FEP</text>
<text transform="translate(110.8 1619.14) rotate(-90)" x="0" y="0" font-size="38.1" fill="#262626" textLength="289.19" lengthAdjust="spacingAndGlyphs">40 Hz ERSP (AU)</text>
<text x="377.15" y="1270.6" font-size="38.1" font-weight="bold" fill="#000" textLength="157.67" lengthAdjust="spacingAndGlyphs">P = 0.945</text>
<path d="M1120.09 1299.7a9.1 9.1 0 1 0 0.01 0M1109.59 1370.1a9.1 9.1 0 1 0 0.01 0M1083.79 1427.4a9.1 9.1 0 1 0 0.01 0M1086.09 1502a9.1 9.1 0 1 0 0.01 0M1101.39 1502a9.1 9.1 0 1 0 0.01 0M1132.39 1500.1a9.1 9.1 0 1 0 0.01 0M1079.89 1518.7a9.1 9.1 0 1 0 0.01 0M1070.09 1529.5a9.1 9.1 0 1 0 0.01 0M1113.89 1526.1a9.1 9.1 0 1 0 0.01 0M1112.29 1549.4a9.1 9.1 0 1 0 0.01 0M1094.99 1560.2a9.1 9.1 0 1 0 0.01 0M1096.29 1570.5a9.1 9.1 0 1 0 0.01 0M1067.09 1574.3a9.1 9.1 0 1 0 0.01 0M1112.29 1573.7a9.1 9.1 0 1 0 0.01 0M1133.39 1576.2a9.1 9.1 0 1 0 0.01 0M1073.29 1592.9a9.1 9.1 0 1 0 0.01 0M1082.89 1598a9.1 9.1 0 1 0 0.01 0M1093.69 1603.1a9.1 9.1 0 1 0 0.01 0M1101.39 1594.8a9.1 9.1 0 1 0 0.01 0M1087.99 1596.1a9.1 9.1 0 1 0 0.01 0M1127.39 1609.5a9.1 9.1 0 1 0 0.01 0M1068.79 1622.3a9.1 9.1 0 1 0 0.01 0M1107.49 1634.4a9.1 9.1 0 1 0 0.01 0" fill="none" stroke="#0000ff" stroke-width="6.3"/>
<path d="M1244.3 1403h18M1253.3 1394v18M1287.9 1438h18M1296.9 1429v18M1270.9 1465.1h18M1279.9 1456.1v18M1252.6 1474.3h18M1261.6 1465.3v18M1262.7 1507.7h18M1271.7 1498.7v18M1246.2 1523.9h18M1255.2 1514.9v18M1270.9 1529h18M1279.9 1520v18M1291.1 1543.7h18M1300.1 1534.7v18M1300.3 1549.5h18M1309.3 1540.5v18M1286.9 1565.5h18M1295.9 1556.5v18M1279 1602.6h18M1288 1593.6v18M1274.7 1609h18M1283.7 1600v18M1265.1 1612.8h18M1274.1 1603.8v18M1269.6 1617.9h18M1278.6 1608.9v18M1254.3 1615.4h18M1263.3 1606.4v18M1246.6 1620.5h18M1255.6 1611.5v18M1241.7 1626.3h18M1250.7 1617.3v18M1283.7 1626.9h18M1292.7 1617.9v18M1291.4 1623.7h18M1300.4 1614.7v18M1292.6 1628.8h18M1301.6 1619.8v18M1311.6 1633.3h18M1320.6 1624.3v18" fill="none" stroke="#ff0000" stroke-width="6.5"/>
<path d="M1062.5 1552.1h74M1099.5 1536.1V1568.1" fill="none" stroke="#000" stroke-width="6.2"/>
<path d="M1248.4 1559.7h74M1285.4 1544.4V1575.7" fill="none" stroke="#000" stroke-width="6.2"/>
<path d="M1099.43 1707.8V1701.8M1099.43 1280.5V1286.5M1285.47 1707.8V1701.8M1285.47 1280.5V1286.5M913.4 1707.8H919.4M1471.5 1707.8H1465.5M913.4 1636.58H919.4M1471.5 1636.58H1465.5M913.4 1565.37H919.4M1471.5 1565.37H1465.5M913.4 1494.15H919.4M1471.5 1494.15H1465.5M913.4 1422.93H919.4M1471.5 1422.93H1465.5M913.4 1351.72H919.4M1471.5 1351.72H1465.5M913.4 1280.5H919.4M1471.5 1280.5H1465.5" fill="none" stroke="#1a1a1a" stroke-width="1.7"/>
<rect x="913.4" y="1280.5" width="558.1" height="427.3" fill="none" stroke="#1a1a1a" stroke-width="1.7"/>
<text x="859.21" y="1721.3" font-size="33.7" fill="#262626">0.8</text>
<text x="883.61" y="1650.08" font-size="33.7" fill="#262626">1</text>
<text x="859.21" y="1578.87" font-size="33.7" fill="#262626">1.2</text>
<text x="859.21" y="1507.65" font-size="33.7" fill="#262626">1.4</text>
<text x="859.21" y="1436.43" font-size="33.7" fill="#262626">1.6</text>
<text x="859.21" y="1365.22" font-size="33.7" fill="#262626">1.8</text>
<text x="883.61" y="1294" font-size="33.7" fill="#262626">2</text>
<text x="1089.76" y="1752.6" font-size="35.8" fill="#262626" textLength="48.86" lengthAdjust="spacingAndGlyphs">HC</text>
<text x="1275.93" y="1752.6" font-size="35.8" fill="#262626" textLength="64.79" lengthAdjust="spacingAndGlyphs">FEP</text>
<text transform="translate(844.8 1619.14) rotate(-90)" x="0" y="0" font-size="38.1" fill="#262626" textLength="289.19" lengthAdjust="spacingAndGlyphs">40 Hz ERSP (AU)</text>
<text x="1111.79" y="1270.6" font-size="38.1" font-weight="bold" fill="#000" textLength="158.16" lengthAdjust="spacingAndGlyphs">P = 0.740</text>
<path d="M339.3 1981.5a9.1 9.1 0 1 0 0.01 0M342.1 2033a9.1 9.1 0 1 0 0.01 0M348.8 2033.6a9.1 9.1 0 1 0 0.01 0M341 2057.4a9.1 9.1 0 1 0 0.01 0M334.3 2064.6a9.1 9.1 0 1 0 0.01 0M359.6 2054.1a9.1 9.1 0 1 0 0.01 0M396 2067a9.1 9.1 0 1 0 0.01 0M353 2087.1a9.1 9.1 0 1 0 0.01 0M382.89 2080.9a9.1 9.1 0 1 0 0.01 0M384.19 2089.5a9.1 9.1 0 1 0 0.01 0M398.1 2105a9.1 9.1 0 1 0 0.01 0M372.3 2117.7a9.1 9.1 0 1 0 0.01 0M379 2122.7a9.1 9.1 0 1 0 0.01 0M375.5 2114.9a9.1 9.1 0 1 0 0.01 0M369.5 2103.9a9.1 9.1 0 1 0 0.01 0M347.6 2123.9a9.1 9.1 0 1 0 0.01 0M346 2134.4a9.1 9.1 0 1 0 0.01 0M375.89 2136.1a9.1 9.1 0 1 0 0.01 0M375.89 2144.4a9.1 9.1 0 1 0 0.01 0M375.3 2155.4a9.1 9.1 0 1 0 0.01 0M341.89 2154.3a9.1 9.1 0 1 0 0.01 0M362.6 2161a9.1 9.1 0 1 0 0.01 0M370.6 2197.5a9.1 9.1 0 1 0 0.01 0M378.1 2220.3a9.1 9.1 0 1 0 0.01 0" fill="none" stroke="#0000ff" stroke-width="6.3"/>
<path d="M523.3 1994.9h18M532.3 1985.9v18M536 2004.5h18M545 1995.5v18M504.4 2035h18M513.4 2026v18M572.4 2043.2h18M581.4 2034.2v18M507.1 2057.9h18M516.1 2048.9v18M533 2060.2h18M542 2051.2v18M505 2075.7h18M514 2066.7v18M567.1 2080.1h18M576.1 2071.1v18M528.4 2099.1h18M537.4 2090.1v18M539.4 2096.5h18M548.4 2087.5v18M537 2105.5h18M546 2096.5v18M538.6 2149.2h18M547.6 2140.2v18M562.5 2146.2h18M571.5 2137.2v18M549.2 2159.1h18M558.2 2150.1v18M521 2170.8h18M530 2161.8v18M554 2175.3h18M563 2166.3v18M554.3 2194.5h18M563.3 2185.5v18M561.8 2196.6h18M570.8 2187.6v18M530 2207.3h18M539 2198.3v18" fill="none" stroke="#ff0000" stroke-width="6.5"/>
<path d="M328 2113.6h74M365 2103V2124.1" fill="none" stroke="#000" stroke-width="6.2"/>
<path d="M513.5 2110h74M550.5 2095.9V2124.2" fill="none" stroke="#000" stroke-width="6.2"/>
<path d="M365 2300.3V2294.3M365 1873.1V1879.1M550.6 2300.3V2294.3M550.6 1873.1V1879.1M179.4 2300.3H185.4M736.2 2300.3H730.2M179.4 2214.86H185.4M736.2 2214.86H730.2M179.4 2129.42H185.4M736.2 2129.42H730.2M179.4 2043.98H185.4M736.2 2043.98H730.2M179.4 1958.54H185.4M736.2 1958.54H730.2M179.4 1873.1H185.4M736.2 1873.1H730.2" fill="none" stroke="#1a1a1a" stroke-width="1.7"/>
<rect x="179.4" y="1873.1" width="556.8" height="427.2" fill="none" stroke="#1a1a1a" stroke-width="1.7"/>
<text x="149.61" y="2313.8" font-size="33.7" fill="#262626">0</text>
<text x="125.21" y="2228.36" font-size="33.7" fill="#262626">0.1</text>
<text x="125.21" y="2142.92" font-size="33.7" fill="#262626">0.2</text>
<text x="125.21" y="2057.48" font-size="33.7" fill="#262626">0.3</text>
<text x="125.21" y="1972.04" font-size="33.7" fill="#262626">0.4</text>
<text x="125.21" y="1886.6" font-size="33.7" fill="#262626">0.5</text>
<text x="355.32" y="2345.1" font-size="35.8" fill="#262626" textLength="48.86" lengthAdjust="spacingAndGlyphs">HC</text>
<text x="541.07" y="2345.1" font-size="35.8" fill="#262626" textLength="64.79" lengthAdjust="spacingAndGlyphs">FEP</text>
<text transform="translate(110.8 2293.34) rotate(-90)" x="0" y="0" font-size="38.1" fill="#262626" textLength="458.54" lengthAdjust="spacingAndGlyphs">40 Hz Phase Locking Factor</text>
<text x="377.15" y="1863.2" font-size="38.1" font-weight="bold" fill="#000" textLength="157.98" lengthAdjust="spacingAndGlyphs">P = 0.843</text>
<path d="M1110.29 1942.1a9.1 9.1 0 1 0 0.01 0M1070.09 1996.6a9.1 9.1 0 1 0 0.01 0M1085.59 1999a9.1 9.1 0 1 0 0.01 0M1102.69 2012.9a9.1 9.1 0 1 0 0.01 0M1070.09 2041.3a9.1 9.1 0 1 0 0.01 0M1109.59 2087.9a9.1 9.1 0 1 0 0.01 0M1100.69 2092.7a9.1 9.1 0 1 0 0.01 0M1089.59 2100.5a9.1 9.1 0 1 0 0.01 0M1115.79 2104a9.1 9.1 0 1 0 0.01 0M1097.89 2114.2a9.1 9.1 0 1 0 0.01 0M1135.79 2118.7a9.1 9.1 0 1 0 0.01 0M1119.39 2135.1a9.1 9.1 0 1 0 0.01 0M1131.89 2141a9.1 9.1 0 1 0 0.01 0M1131.89 2146.4a9.1 9.1 0 1 0 0.01 0M1102.09 2146.4a9.1 9.1 0 1 0 0.01 0M1110.39 2151.8a9.1 9.1 0 1 0 0.01 0M1119.39 2153.6a9.1 9.1 0 1 0 0.01 0M1070.99 2145.2a9.1 9.1 0 1 0 0.01 0M1078.39 2164.3a9.1 9.1 0 1 0 0.01 0M1066.89 2179.9a9.1 9.1 0 1 0 0.01 0M1092.29 2179.9a9.1 9.1 0 1 0 0.01 0M1108.99 2197.8a9.1 9.1 0 1 0 0.01 0" fill="none" stroke="#0000ff" stroke-width="6.3"/>
<path d="M1265.5 1988.7h18M1274.5 1979.7v18M1269.8 1989.9h18M1278.8 1980.9v18M1303.8 2013.6h18M1312.8 2004.6v18M1256.8 2020.8h18M1265.8 2011.8v18M1258.4 2043h18M1267.4 2034v18M1258.9 2048.6h18M1267.9 2039.6v18M1273.3 2065h18M1282.3 2056v18M1279.7 2100.5h18M1288.7 2091.5v18M1288.3 2103.6h18M1297.3 2094.6v18M1301.1 2104.2h18M1310.1 2095.2v18M1279.1 2112.2h18M1288.1 2103.2v18M1301.9 2124.6h18M1310.9 2115.6v18M1288.7 2158h18M1297.7 2149v18M1293.9 2166.6h18M1302.9 2157.6v18M1292.1 2174h18M1301.1 2165v18M1248.2 2180h18M1257.2 2171v18M1272.9 2180h18M1281.9 2171v18M1255 2204.3h18M1264 2195.3v18M1284.4 2199.4h18M1293.4 2190.4v18M1285 2223.4h18M1294 2214.4v18" fill="none" stroke="#ff0000" stroke-width="6.5"/>
<path d="M1062.3 2116.5h74M1099.3 2103.6V2129.3" fill="none" stroke="#000" stroke-width="6.2"/>
<path d="M1248.4 2110h74M1285.4 2093.7V2126.4" fill="none" stroke="#000" stroke-width="6.2"/>
<path d="M1099.43 2300.3V2294.3M1099.43 1873.1V1879.1M1285.47 2300.3V2294.3M1285.47 1873.1V1879.1M913.4 2300.3H919.4M1471.5 2300.3H1465.5M913.4 2214.86H919.4M1471.5 2214.86H1465.5M913.4 2129.42H919.4M1471.5 2129.42H1465.5M913.4 2043.98H919.4M1471.5 2043.98H1465.5M913.4 1958.54H919.4M1471.5 1958.54H1465.5M913.4 1873.1H919.4M1471.5 1873.1H1465.5" fill="none" stroke="#1a1a1a" stroke-width="1.7"/>
<rect x="913.4" y="1873.1" width="558.1" height="427.2" fill="none" stroke="#1a1a1a" stroke-width="1.7"/>
<text x="883.61" y="2313.8" font-size="33.7" fill="#262626">0</text>
<text x="859.21" y="2228.36" font-size="33.7" fill="#262626">0.1</text>
<text x="859.21" y="2142.92" font-size="33.7" fill="#262626">0.2</text>
<text x="859.21" y="2057.48" font-size="33.7" fill="#262626">0.3</text>
<text x="859.21" y="1972.04" font-size="33.7" fill="#262626">0.4</text>
<text x="859.21" y="1886.6" font-size="33.7" fill="#262626">0.5</text>
<text x="1089.76" y="2345.1" font-size="35.8" fill="#262626" textLength="48.86" lengthAdjust="spacingAndGlyphs">HC</text>
<text x="1275.93" y="2345.1" font-size="35.8" fill="#262626" textLength="64.79" lengthAdjust="spacingAndGlyphs">FEP</text>
<text transform="translate(844.8 2293.34) rotate(-90)" x="0" y="0" font-size="38.1" fill="#262626" textLength="458.54" lengthAdjust="spacingAndGlyphs">40 Hz Phase Locking Factor</text>
<text x="1111.8" y="1863.2" font-size="38.1" font-weight="bold" fill="#000" textLength="158.01" lengthAdjust="spacingAndGlyphs">P = 0.769</text>
</svg>
</body></html>
